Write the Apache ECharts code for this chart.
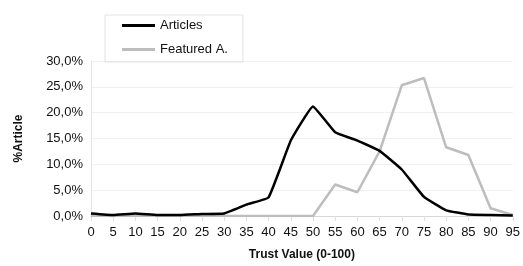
<!DOCTYPE html>
<html>
<head>
<meta charset="utf-8">
<script src="https://cdn.jsdelivr.net/npm/echarts@6/dist/echarts.min.js"></script>
<style>
  html, body { margin: 0; padding: 0; background: #fff; }
  #chart { width: 523px; height: 266px; }
</style>
</head>
<body>
<div id="chart"></div>
<script>
// trust value buckets
var trustValues = ["0", "5", "10", "15", "20", "25", "30", "35", "40", "45",
  "50", "55", "60", "65", "70", "75", "80", "85", "90", "95"];
// % of articles per bucket
var articles = [0.5, 0.2, 0.5, 0.2, 0.2, 0.4, 0.5, 2.2, 3.6, 14.6,
  21.2, 16.2, 14.6, 12.6, 9.0, 3.7, 1.1, 0.3, 0.2, 0.1];
var featured = [0, 0, 0, 0, 0, 0, 0, 0, 0, 0,
  0, 6.1, 4.6, 12.5, 25.3, 26.7, 13.3, 11.8, 1.5, 0.2];
var seriesNames = ["Articles", "Featured A."];

var chart = echarts.init(document.getElementById("chart"));

var font = "Liberation Sans";

chart.setOption({
  animation: false,
  grid: { left: 91, right: 9, top: 61, bottom: 48 },
  legend: {
    orient: "vertical",
    left: 105,
    top: 15,
    padding: [4, 15, 6, 17],
    itemGap: 11,
    itemWidth: 33,
    itemHeight: 14,
    borderColor: "#e2e2e2",
    borderWidth: 1,
    textStyle: { fontFamily: font, fontSize: 13, color: "#111", letterSpacing: -0.8 },
    data: [
      { name: seriesNames[0], icon: "path://M0,6 L33,6 L33,9 L0,9 Z" },
      { name: seriesNames[1], icon: "path://M0,6 L33,6 L33,9 L0,9 Z" }
    ]
  },
  xAxis: {
    type: "category",
    data: trustValues,
    boundaryGap: false,
    name: "Trust Value (0-100)",
    nameLocation: "middle",
    nameGap: 33,
    nameTextStyle: { fontFamily: font, fontSize: 12, fontWeight: "bold", color: "#111" },
    axisLine: { lineStyle: { color: "#d8d8d8" } },
    axisTick: { show: true, lineStyle: { color: "#e0e0e0" } },
    axisLabel: { fontFamily: font, fontSize: 13, color: "#111", margin: 10 }
  },
  yAxis: {
    type: "value",
    min: 0,
    max: 30,
    interval: 5,
    name: "%Article",
    nameLocation: "middle",
    nameGap: 66,
    nameTextStyle: { fontFamily: font, fontSize: 12, fontWeight: "bold", color: "#111" },
    axisLine: { show: true, lineStyle: { color: "#e4e4e4" } },
    splitLine: { lineStyle: { color: "#f0f0f0" } },
    axisLabel: {
      fontFamily: font, fontSize: 13, color: "#111", margin: 8,
      formatter: function (v) { return v.toFixed(1).replace(".", ",") + "%"; }
    }
  },
  series: [
    {
      name: seriesNames[0],
      type: "line",
      data: articles,
      symbol: "none",
      smooth: 0.1,
      lineStyle: { color: "#000", width: 2.5 },
      itemStyle: { color: "#000" },
      z: 3
    },
    {
      name: seriesNames[1],
      type: "line",
      data: featured,
      symbol: "none",
      lineStyle: { color: "#bdbdbd", width: 2.5 },
      itemStyle: { color: "#bdbdbd" },
      z: 2
    }
  ]
});
</script>
</body>
</html>
